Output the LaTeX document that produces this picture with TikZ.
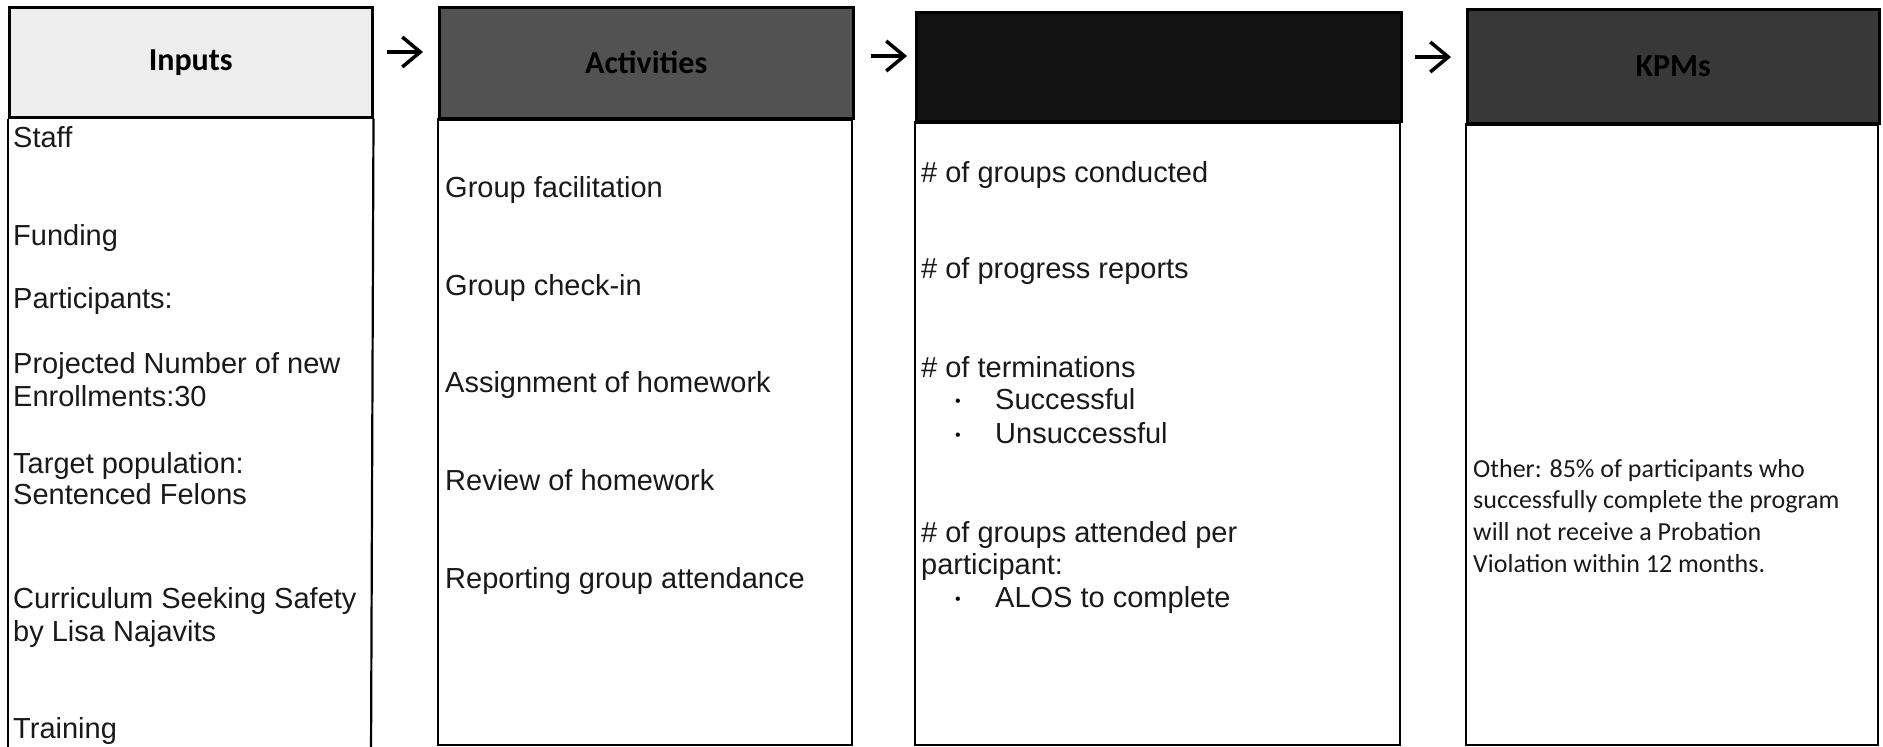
\documentclass[tikz,border=0pt]{standalone}
\usepackage{fontspec}
\setmainfont{Liberation Sans}
\newfontfamily\calibri{Carlito}
\usetikzlibrary{arrows.meta}

\tikzset{
  colhead/.style={draw=black, line width=2.5pt, anchor=north west, inner sep=0pt,
    font=\calibri\bfseries\fontsize{32}{36}\selectfont},
  colbody/.style={draw=black, line width=2.2pt},
  item/.style={anchor=base west, inner sep=0pt, text=black!90,
    font=\fontsize{29}{33}\selectfont},
  bullet/.style={anchor=base west, inner sep=0pt, font=\fontsize{16}{18}\selectfont},
  kpmtext/.style={anchor=base west, inner sep=0pt, text=black!90,
    font=\calibri\fontsize{26}{31}\selectfont},
  flow/.style={-{Straight Barb[length=18pt,width=30pt]}, line width=3.5pt},
}

\begin{document}
\begin{tikzpicture}[x=1pt, y=-1pt]

\useasboundingbox (0,0) rectangle (1883,747);

% column headers
\node[colhead, fill=black!7, minimum width=363pt, minimum height=110pt] (inputs) at (8,6) {Inputs};
\node[colhead, fill=black!68, minimum width=414pt, minimum height=111pt] (activities) at (438,6) {Activities};
\node[colhead, fill=black!93, minimum width=485pt, minimum height=109pt] (outputs) at (915,11) {};
\node[colhead, fill=black!78, minimum width=412pt, minimum height=114pt] (kpms) at (1466,8) {KPMs};

% column bodies
\draw[colbody] (inputs.south west) -- (8,760);
\draw[colbody] (inputs.south east) -- (371,760);
\draw[colbody] (activities.south west) rectangle (852,745);
\draw[colbody] (outputs.south west) rectangle (1400,745);
\draw[colbody] (kpms.south west) rectangle (1878,745);

% arrows between columns
\coordinate (a1) at (387,52);  \coordinate (b1) at (423,52);
\coordinate (a2) at (871,56);  \coordinate (b2) at (907,56);
\coordinate (a3) at (1415,57); \coordinate (b3) at (1451,57);
\draw[flow] (a1) -- (b1);
\draw[flow] (a2) -- (b2);
\draw[flow] (a3) -- (b3);

% inputs
\foreach \y/\t [count=\i] in {147/Staff, 245/Funding, 308/Participants:,
    373/Projected Number of new, 406/Enrollments:30, 473/Target population:,
    504/Sentenced Felons, 608/Curriculum Seeking Safety, 641/by Lisa Najavits,
    738/Training}
  \node[item] (in\i) at (13,\y) {\t};

% activities
\foreach \y/\t [count=\i] in {197/Group facilitation, 295/Group check-in,
    392/Assignment of homework, 490/Review of homework,
    588/Reporting group attendance}
  \node[item] (act\i) at (445,\y) {\t};

% outputs
\foreach \y/\t [count=\i] in {182/\# of groups conducted, 278/\# of progress reports,
    377/\# of terminations, 542/\# of groups attended per, 574/participant:}
  \node[item] (out\i) at (921,\y) {\t};
\foreach \y/\t [count=\i] in {409/Successful, 443/Unsuccessful, 607/ALOS to complete}{
  \node[bullet] (dot\i) at (955,\y-3) {\textbullet};
  \node[item] (sub\i) at (995,\y) {\t};
}

% kpms
\foreach \y/\t [count=\i] in {477/Other: 85\% of participants who,
    508/successfully complete the program, 540/will not receive a Probation,
    572/Violation within 12 months.}
  \node[kpmtext] (kpm\i) at (1473,\y) {\t};

\end{tikzpicture}
\end{document}
